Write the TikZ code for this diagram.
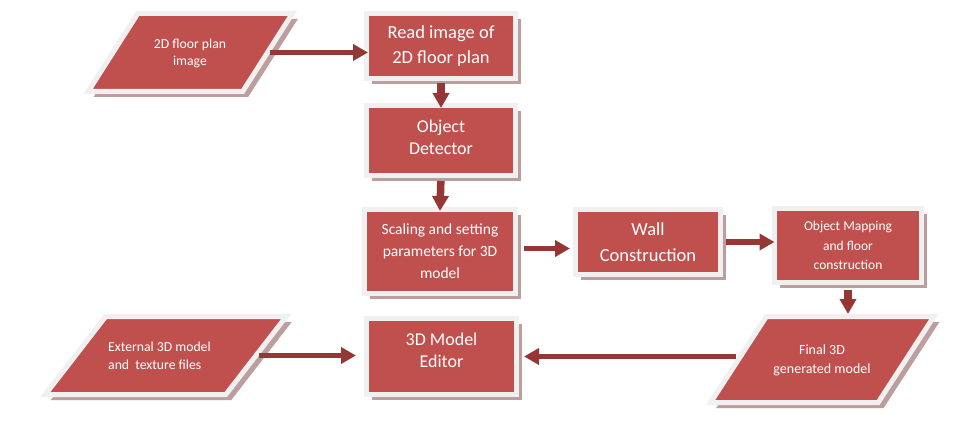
\documentclass[tikz,border=0pt]{standalone}
\usepackage{fontspec}
\setmainfont{Carlito}
\usetikzlibrary{arrows.meta,shadows}
\definecolor{boxred}{RGB}{192,80,77}
\definecolor{arrowc}{RGB}{149,55,53}
\definecolor{framec}{RGB}{240,240,240}
\definecolor{shadowc}{RGB}{188,158,158}
\tikzset{
  rbox/.style={rectangle, fill=boxred, draw=framec, line width=5pt, text=white,
    align=center, inner sep=0pt, outer sep=0pt,
    drop shadow={shadow xshift=5.5pt, shadow yshift=-5.5pt, opacity=1, fill=shadowc}},
  pgbox/.style={fill=boxred, draw=framec, line width=5pt},
  ptxt/.style={text=white, align=center, inner sep=0pt},
  arrh/.style={draw=arrowc, line width=5.5pt, -{Triangle[length=15pt,width=16pt]}},
  arrv/.style={draw=arrowc, line width=7.5pt, -{Triangle[length=15pt,width=16pt]}},
}
\newcommand\pgramshape[6]{%
  \pgfmathsetmacro\pgH{#5/2+2.5}%
  \pgfmathsetmacro\pgW{#4/2+3}%
  \pgfmathsetmacro\pgS{#6/2*\pgH/(#5/2)}%
  \fill[shadowc] ({#2-\pgW+\pgS+5.5},{#3-\pgH+5.5}) -- ({#2+\pgW+\pgS+5.5},{#3-\pgH+5.5}) -- ({#2+\pgW-\pgS+5.5},{#3+\pgH+5.5}) -- ({#2-\pgW-\pgS+5.5},{#3+\pgH+5.5}) -- cycle;
  \filldraw[pgbox] ({#2-\pgW+\pgS},{#3-\pgH}) -- ({#2+\pgW+\pgS},{#3-\pgH}) -- ({#2+\pgW-\pgS},{#3+\pgH}) -- ({#2-\pgW-\pgS},{#3+\pgH}) -- cycle;
  \coordinate (#1-e) at ({#2+\pgW+2.5},#3);
  \coordinate (#1-w) at ({#2-\pgW-2.5},#3);
  \coordinate (#1-n) at (#2,{#3-\pgH-2.5});
}
\begin{document}
\begin{tikzpicture}[x=1pt,y=-1pt]
\useasboundingbox (0,0) rectangle (955,438);
\fill[white] (0,0) rectangle (955,438);

% parallelograms
\pgramshape{p1}{190.25}{52.5}{148.5}{73}{46.5}
\node[ptxt, font=\fontsize{13.7}{17}\selectfont] (p1) at (190,53) {2D floor plan\\image};

\pgramshape{p2}{165.75}{355.5}{174.5}{73}{56.5}
\node[ptxt, align=left, anchor=west, font=\fontsize{13.7}{18}\selectfont] (p2) at (108,356) {External 3D model\\and~ texture files};

\pgramshape{p3}{822.25}{359.5}{161.5}{81}{52.5}
\node[ptxt, font=\fontsize{14}{19}\selectfont] (p3) at (822,360) {Final 3D\\generated model};

% boxes
\node[rbox, minimum width=149pt, minimum height=65pt, font=\fontsize{18.5}{25}\selectfont] (read) at (441,46) {Read image of\\2D floor plan};
\node[rbox, minimum width=149pt, minimum height=70pt, font=\fontsize{18}{22}\selectfont] (detect) at (441,140.5) {Object\\Detector\rule[-6pt]{0pt}{0pt}};
\node[rbox, minimum width=151pt, minimum height=84pt, font=\fontsize{15.5}{22}\selectfont] (scale) at (440,251.5) {Scaling and setting\\parameters for 3D\\model};
\node[rbox, minimum width=145pt, minimum height=65pt, font=\fontsize{18.5}{26}\selectfont] (wall) at (648,242) {Wall\\Construction};
\node[rbox, minimum width=147pt, minimum height=74pt, font=\fontsize{13.5}{19.5}\selectfont] (map) at (848,245.5) {Object Mapping\\and floor\\construction};
\node[rbox, minimum width=150pt, minimum height=76pt, font=\fontsize{18}{22}\selectfont] (editor) at (441.5,356.5) {3D Model\\Editor\rule[-12pt]{0pt}{0pt}};

% connectors
\draw[arrh, shorten >=-1.5pt] (p1-e) -- (p1-e -| read.west);
\draw[arrv, shorten <=4.5pt, shorten >=-2.5pt] (read.south) -- (detect.north);
\draw[arrv, shorten <=5.5pt, shorten >=-1.5pt] (detect.south) -- (scale.north);
\coordinate (sw) at ([yshift=3pt]scale.east);
\draw[arrh, shorten <=8.5pt, shorten >=5.5pt] (sw) -- (sw -| wall.west);
\draw[arrh, shorten <=5.5pt] (wall.east) -- (wall.east -| map.west);
\draw[arrv, shorten <=7.5pt] (map.south) -- (map.south |- p3-n);
\draw[arrh, shorten >=10.5pt] (p2-e) -- (p2-e -| editor.west);
\draw[arrh, shorten >=7.5pt] (editor.east -| p3-w) -- (editor.east);
\end{tikzpicture}
\end{document}
